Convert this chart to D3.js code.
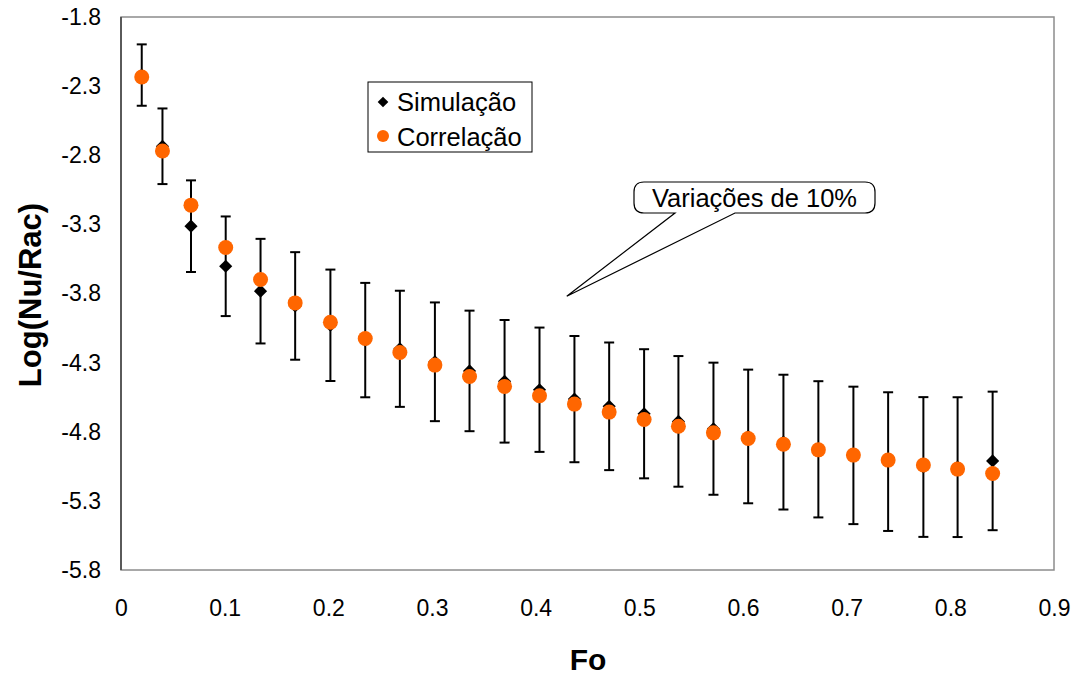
<!DOCTYPE html>
<html>
<head>
<meta charset="utf-8">
<script src="https://cdn.jsdelivr.net/npm/d3@7"></script>
<style>
  html, body { margin: 0; padding: 0; background: #fff; }
  svg { display: block; font-family: Arial, "Liberation Sans", sans-serif; }
</style>
</head>
<body>
<svg id="chart" width="1080" height="675"></svg>
<script>
// Fourier number for each sample
const fo = [0.020, 0.040, 0.0675, 0.101, 0.1346, 0.168, 0.202, 0.2356, 0.269, 0.3028,
            0.3362, 0.370, 0.4037, 0.4374, 0.4709, 0.5046, 0.5377, 0.5715, 0.605, 0.639,
            0.6727, 0.7065, 0.740, 0.774, 0.807, 0.8408];
// Log(Nu/Rac) from the simulation
const simulacao = [-2.22, -2.735, -3.313, -3.603, -3.783, -3.89, -4.03, -4.137, -4.20, -4.294,
                   -4.36, -4.435, -4.496, -4.564, -4.616, -4.67, -4.725, -4.778, -4.834, -4.875,
                   -4.927, -4.971, -5.016, -5.055, -5.056, -5.011];
// Log(Nu/Rac) from the correlation
const correlacao = [-2.234, -2.769, -3.161, -3.467, -3.699, -3.868, -4.008, -4.126, -4.227, -4.318,
                    -4.40, -4.472, -4.540, -4.600, -4.658, -4.711, -4.76, -4.808, -4.849, -4.890,
                    -4.931, -4.969, -5.005, -5.041, -5.070, -5.102];
// relative size of the error bars around the simulation
const variacao = 0.10;

const xTicks = [0, 0.1, 0.2, 0.3, 0.4, 0.5, 0.6, 0.7, 0.8, 0.9];
const yTicks = [-1.8, -2.3, -2.8, -3.3, -3.8, -4.3, -4.8, -5.3, -5.8];
const seriesNames = ["Simulação", "Correlação"];
const calloutText = "Variações de 10%";
const calloutTip = [0.430, -3.82];

const orange = "#FF6600";
const svg = d3.select("#chart");
const L = 121, R = 1054, T = 17, B = 570;

const x = d3.scaleLinear().domain([0, 0.9]).range([L, R]);
const y = d3.scaleLinear().domain([-5.8, -1.8]).range([B, T]);

// plot frame
svg.append("rect").attr("x", L).attr("y", T).attr("width", R - L).attr("height", B - T)
  .attr("fill", "#fff").attr("stroke", "#8c8c8c").attr("stroke-width", 1.5);

// axes (labels only, no tick marks); plain hyphen for negatives
const xAxis = svg.append("g").attr("transform", `translate(0,${B})`)
  .call(d3.axisBottom(x).tickValues(xTicks).tickSize(0).tickPadding(30)
    .tickFormat(d => d === 0 ? "0" : d.toFixed(1)));
const yAxis = svg.append("g").attr("transform", `translate(${L},0)`)
  .call(d3.axisLeft(y).tickValues(yTicks).tickSize(0).tickPadding(20)
    .tickFormat(d => d.toFixed(1)));
[xAxis, yAxis].forEach(a => {
  a.select(".domain").remove();
  a.selectAll("text").attr("font-size", 23).attr("fill", "#000")
    .attr("font-family", "Arial, 'Liberation Sans', sans-serif");
});
svg.append("line").attr("x1", L).attr("x2", L).attr("y1", T).attr("y2", B)
  .attr("stroke", "#404040").attr("stroke-width", 1.5);

// axis titles
svg.append("text").attr("x", 588).attr("y", 670).attr("text-anchor", "middle")
  .attr("font-size", 30).attr("font-weight", "bold").text("Fo");
svg.append("text").attr("transform", "translate(41,295) rotate(-90)")
  .attr("text-anchor", "middle").attr("font-size", 31).attr("font-weight", "bold")
  .text("Log(Nu/Rac)");

const pts = fo.map((f, i) => ({ f, s: simulacao[i], c: correlacao[i] }));

// ±10 % error bars on the simulation
const eb = svg.append("g").attr("stroke", "#000").attr("stroke-width", 2);
pts.forEach(p => {
  const hi = p.s * (1 - variacao), lo = p.s * (1 + variacao);
  eb.append("line").attr("x1", x(p.f)).attr("x2", x(p.f)).attr("y1", y(hi)).attr("y2", y(lo));
  eb.append("line").attr("x1", x(p.f) - 5).attr("x2", x(p.f) + 5).attr("y1", y(hi)).attr("y2", y(hi));
  eb.append("line").attr("x1", x(p.f) - 5).attr("x2", x(p.f) + 5).attr("y1", y(lo)).attr("y2", y(lo));
});

// simulation markers (diamonds)
const diamond = d3.symbol().type(d3.symbolDiamond2).size(110);
svg.append("g").selectAll("path").data(pts).join("path")
  .attr("d", diamond).attr("transform", d => `translate(${x(d.f)},${y(d.s)})`)
  .attr("fill", "#000");

// correlation markers (circles)
svg.append("g").selectAll("circle").data(pts).join("circle")
  .attr("cx", d => x(d.f)).attr("cy", d => y(d.c)).attr("r", 7.5)
  .attr("fill", orange);

// legend
const lg = svg.append("g");
lg.append("rect").attr("x", 368).attr("y", 82).attr("width", 164).attr("height", 70)
  .attr("fill", "#fff").attr("stroke", "#000").attr("stroke-width", 1);
lg.append("path").attr("d", d3.symbol().type(d3.symbolDiamond2).size(72)())
  .attr("transform", "translate(383,102)").attr("fill", "#000");
lg.append("circle").attr("cx", 383).attr("cy", 136).attr("r", 6).attr("fill", orange);
lg.append("text").attr("x", 397).attr("y", 111).attr("font-size", 25.5).text(seriesNames[0]);
lg.append("text").attr("x", 397).attr("y", 146).attr("font-size", 25.5).text(seriesNames[1]);

// callout pointing at the error bars
const bx0 = 634, bx1 = 875, by0 = 182, by1 = 213, r = 10;
const tx = x(calloutTip[0]), ty = y(calloutTip[1]);
const cp = d3.path();
cp.moveTo(bx0 + r, by0);
cp.lineTo(bx1 - r, by0);
cp.quadraticCurveTo(bx1, by0, bx1, by0 + r);
cp.lineTo(bx1, by1 - r);
cp.quadraticCurveTo(bx1, by1, bx1 - r, by1);
cp.lineTo(735, by1);
cp.lineTo(tx, ty);
cp.lineTo(675, by1);
cp.lineTo(bx0 + r, by1);
cp.quadraticCurveTo(bx0, by1, bx0, by1 - r);
cp.lineTo(bx0, by0 + r);
cp.quadraticCurveTo(bx0, by0, bx0 + r, by0);
cp.closePath();
svg.append("path").attr("d", cp.toString()).attr("fill", "#fff")
  .attr("stroke", "#000").attr("stroke-width", 1.2);
svg.append("text").attr("x", (bx0 + bx1) / 2).attr("y", 207).attr("text-anchor", "middle")
  .attr("font-size", 25.5).text(calloutText);
</script>
</body>
</html>
